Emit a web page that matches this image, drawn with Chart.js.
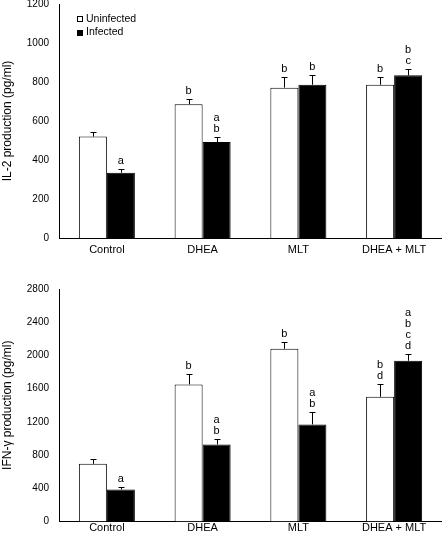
<!DOCTYPE html>
<html><head><meta charset="utf-8">
<script src="https://cdn.jsdelivr.net/npm/chart.js@4/dist/chart.umd.min.js"></script>
<style>
html,body{margin:0;padding:0;background:#fff;width:442px;height:537px;overflow:hidden}
canvas{position:absolute;left:0}
#c1{top:0}
#c2{top:268px}
</style></head><body>
<canvas id="c1" width="442" height="268"></canvas>
<canvas id="c2" width="442" height="269"></canvas>
<script>
const categories = ['Control', 'DHEA', 'MLT', 'DHEA + MLT'];
const seriesNames = ['Uninfected', 'Infected'];

const il2Uninfected = [520, 686, 771, 786];
const il2Infected = [335, 492, 786, 834];
const il2UninfectedErr = [22, 25, 56, 41];
const il2InfectedErr = [17, 24, 51, 35];
const il2UninfectedLetters = ['', 'b', 'b', 'b'];
const il2InfectedLetters = ['a', 'ab', 'b', 'bc'];
const il2Ticks = [0, 200, 400, 600, 800, 1000, 1200];

const ifnUninfected = [694, 1651, 2080, 1502];
const ifnInfected = [386, 928, 1169, 1936];
const ifnUninfectedErr = [57, 128, 81, 149];
const ifnInfectedErr = [31, 64, 145, 80];
const ifnUninfectedLetters = ['', 'b', 'b', 'bd'];
const ifnInfectedLetters = ['a', 'ab', 'ab', 'abcd'];
const ifnTicks = [0, 400, 800, 1200, 1600, 2000, 2400, 2800];

const FONT = '"Liberation Sans", Arial, Helvetica, sans-serif';

const errorBarPlugin = {
  id: 'errorBars',
  afterDatasetsDraw(chart) {
    const ctx = chart.ctx;
    const ys = chart.scales.y;
    chart.data.datasets.forEach((ds, di) => {
      const meta = chart.getDatasetMeta(di);
      meta.data.forEach((bar, i) => {
        const v = ds.data[i], e = ds.errors[i];
        const yTop = Math.round(ys.getPixelForValue(v + e)) + 0.5;
        const x = Math.round(bar.x) + 0.5;
        ctx.save();
        ctx.strokeStyle = '#000';
        ctx.lineWidth = 1;
        ctx.beginPath();
        ctx.moveTo(x, bar.y);
        ctx.lineTo(x, yTop);
        ctx.moveTo(x - 3, yTop);
        ctx.lineTo(x + 3, yTop);
        ctx.stroke();
        const letters = ds.letters[i] || '';
        ctx.fillStyle = '#000';
        ctx.font = '11px ' + FONT;
        ctx.textAlign = 'center';
        ctx.textBaseline = 'middle';
        for (let k = 0; k < letters.length; k++) {
          const yy = yTop - 8.5 - (letters.length - 1 - k) * 11;
          ctx.fillText(letters[k], bar.x, yy);
        }
        ctx.restore();
      });
    });
  }
};

const legendPlugin = {
  id: 'boxLegend',
  afterDraw(chart, args, opts) {
    if (!opts.show) return;
    const ctx = chart.ctx;
    ctx.save();
    ctx.font = '10.5px ' + FONT;
    ctx.textBaseline = 'middle';
    ctx.textAlign = 'left';
    chart.data.datasets.forEach((ds, i) => {
      const yc = 19 + i * 13.5;
      const bx = 77.5, by = Math.round(yc - 3) + 0.5;
      ctx.fillStyle = ds.backgroundColor;
      ctx.fillRect(bx, by, 5, 5);
      ctx.strokeStyle = '#000';
      ctx.lineWidth = 1;
      ctx.strokeRect(bx, by, 5, 5);
      ctx.fillStyle = '#000';
      ctx.fillText(ds.label, 86, yc);
    });
    ctx.restore();
  }
};

function makeChart(id, cfg) {
  const canvas = document.getElementById(id);
  const H = canvas.height;
  return new Chart(canvas, {
    type: 'bar',
    data: {
      labels: categories,
      datasets: [
        { label: seriesNames[0], data: cfg.uninf, errors: cfg.uErr, letters: cfg.uLet,
          backgroundColor: '#ffffff', borderColor: '#000000', borderWidth: 1 },
        { label: seriesNames[1], data: cfg.inf, errors: cfg.iErr, letters: cfg.iLet,
          backgroundColor: '#000000', borderColor: '#000000', borderWidth: 1 }
      ]
    },
    options: {
      responsive: false,
      animation: false,
      devicePixelRatio: 1,
      categoryPercentage: 0.585,
      barPercentage: 1.0,
      layout: { padding: { top: cfg.top, left: 0, right: 0, bottom: 0 } },
      plugins: {
        legend: { display: false },
        tooltip: { enabled: false },
        boxLegend: { show: cfg.legend }
      },
      scales: {
        x: {
          offset: true,
          grid: { display: false, drawTicks: false },
          border: { display: true, color: '#000', width: 1 },
          ticks: { color: '#000', font: { family: FONT, size: 11 }, padding: cfg.xPad, maxRotation: 0, autoSkip: false },
          afterFit(a) { a.height = H - cfg.bottom; a.paddingLeft = 0; a.paddingRight = 0; }
        },
        y: {
          min: 0,
          max: cfg.ticks[cfg.ticks.length - 1],
          afterBuildTicks(a) { a.ticks = cfg.ticks.map(v => ({ value: v })); },
          grid: { display: false, drawTicks: false },
          border: { display: true, color: '#000', width: 1 },
          ticks: { color: '#000', font: { family: FONT, size: 10 }, padding: 10, callback: v => String(v) },
          title: { display: true, text: cfg.title, color: '#000', font: { family: FONT, size: 12 }, padding: 0 },
          afterFit(a) { a.width = 59; a.paddingTop = 0; a.paddingBottom = 0; }
        }
      }
    },
    plugins: [errorBarPlugin, legendPlugin]
  });
}

makeChart('c1', {
  uninf: il2Uninfected, inf: il2Infected, uErr: il2UninfectedErr, iErr: il2InfectedErr,
  uLet: il2UninfectedLetters, iLet: il2InfectedLetters, ticks: il2Ticks,
  title: 'IL-2 production (pg/ml)', top: 4, bottom: 238, xPad: 5, legend: true
});
makeChart('c2', {
  uninf: ifnUninfected, inf: ifnInfected, uErr: ifnUninfectedErr, iErr: ifnInfectedErr,
  uLet: ifnUninfectedLetters, iLet: ifnInfectedLetters, ticks: ifnTicks,
  title: 'IFN-γ production (pg/ml)', top: 21, bottom: 253.5, xPad: 0, legend: false
});
</script>
</body></html>
